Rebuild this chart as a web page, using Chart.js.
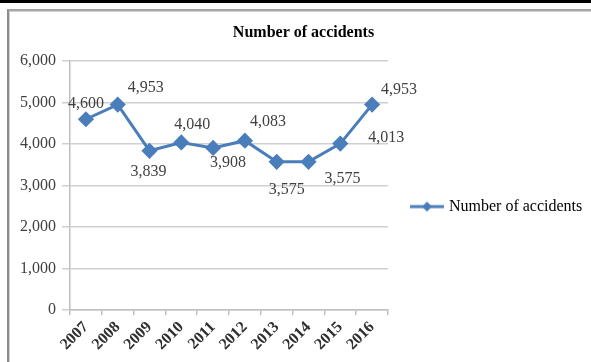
<!DOCTYPE html>
<html>
<head>
<meta charset="utf-8">
<title>Number of accidents</title>
<script src="https://cdn.jsdelivr.net/npm/chart.js@4.4.1/dist/chart.umd.min.js"></script>
<style>
    html, body { margin: 0; padding: 0; background: #fff; }
    .wrap { position: relative; width: 591px; height: 362px; overflow: hidden; }
    .rule { position: absolute; left: 0; top: 0; width: 591px; height: 3px; background: #000; }
    .frame { position: absolute; left: 7px; top: 9px; width: 700px; height: 400px;
             border-left: 2px solid #8c8c8c; border-top: 2px solid #a6a6a6;
             box-shadow: inset 1px 1px 0 #d0d0d0; }
    #accidentsChart { position: absolute; left: 0; top: 0; }
</style>
</head>
<body>
<div class="wrap">
    <div class="rule"></div>
    <div class="frame"></div>
    <canvas id="accidentsChart" width="591" height="362"></canvas>
</div>
<script>
/* Road accidents per year, 2007-2016 */
const years = ['2007', '2008', '2009', '2010', '2011', '2012', '2013', '2014', '2015', '2016'];
const accidents = [4600, 4953, 3839, 4040, 3908, 4083, 3575, 3575, 4013, 4953];
const yTicks = [0, 1000, 2000, 3000, 4000, 5000, 6000];

// hand-placed value labels, offset from each point [dx, dy]
const labelOffsets = [[0, -15], [28, -17], [-1, 21], [11, -18], [15, 15], [23, -19], [10, 28], [34, 17], [46, -6], [27, -15]];

const SERIF = '"Liberation Serif", "Times New Roman", serif';
const LINE_BLUE = '#4a7ebb';
const fmt = v => v.toLocaleString('en-US');

// legend swatch: short line with a diamond in the middle
function legendSwatch() {
    const c = document.createElement('canvas');
    c.width = 34; c.height = 12;
    const g = c.getContext('2d');
    g.strokeStyle = LINE_BLUE; g.lineWidth = 3;
    g.beginPath(); g.moveTo(0, 6); g.lineTo(34, 6); g.stroke();
    g.fillStyle = LINE_BLUE;
    g.beginPath(); g.moveTo(17, 1); g.lineTo(22, 6); g.lineTo(17, 11); g.lineTo(12, 6); g.closePath(); g.fill();
    return c;
}

const valueLabels = {
    id: 'valueLabels',
    afterDatasetsDraw(chart) {
        const ctx = chart.ctx;
        const meta = chart.getDatasetMeta(0);
        ctx.save();
        ctx.font = '16px ' + SERIF;
        ctx.fillStyle = '#404040';
        ctx.textAlign = 'center';
        ctx.textBaseline = 'middle';
        meta.data.forEach((pt, i) => {
            const [dx, dy] = labelOffsets[i];
            ctx.fillText(fmt(accidents[i]), pt.x + dx, pt.y + dy);
        });
        ctx.restore();
    }
};

const legendWidth = {
    id: 'legendWidth',
    beforeInit(chart) {
        const fit = chart.legend.fit;
        chart.legend.fit = function () {
            fit.call(this);
            this.width = 203;
        };
    }
};

new Chart(document.getElementById('accidentsChart'), {
    type: 'line',
    data: {
        labels: years,
        datasets: [{
            label: 'Number of accidents',
            data: accidents,
            borderColor: LINE_BLUE,
            backgroundColor: LINE_BLUE,
            borderWidth: 3,
            pointStyle: 'rectRot',
            pointRadius: 6,
            pointHoverRadius: 6,
            tension: 0
        }]
    },
    options: {
        responsive: false,
        animation: false,
        devicePixelRatio: 1,
        layout: { padding: { left: 16, right: 0, top: 0, bottom: 0 } },
        font: { family: SERIF, size: 16 },
        plugins: {
            title: {
                display: true,
                text: 'Number of accidents',
                color: '#000',
                font: { family: SERIF, size: 16, weight: 'bold' },
                padding: { top: 23, bottom: 19 }
            },
            legend: {
                position: 'right',
                align: 'center',
                fullSize: false,
                title: { display: true, text: ' ', font: { size: 10 }, padding: { top: 30, bottom: 0 } },
                labels: {
                    usePointStyle: true,
                    pointStyle: legendSwatch(),
                    pointStyleWidth: 28,
                    padding: 25,
                    color: '#000',
                    font: { family: SERIF, size: 16 }
                }
            },
            tooltip: { enabled: false }
        },
        scales: {
            x: {
                offset: true,
                afterFit: s => { s.height = 52; },
                grid: { drawOnChartArea: false, offset: true, tickLength: 5, color: '#bfbfbf', lineWidth: 1.5 },
                border: { color: '#bfbfbf', width: 1.5 },
                ticks: { autoSkip: false, maxRotation: 45, minRotation: 45, padding: 3, color: '#303030', font: { family: SERIF, size: 16, weight: 'bold' } }
            },
            y: {
                min: yTicks[0],
                max: yTicks[yTicks.length - 1],
                afterFit: s => { s.width = 54; },
                afterBuildTicks: s => { s.ticks = yTicks.map(v => ({ value: v })); },
                grid: { color: '#d0d0d0', lineWidth: 1.5, tickLength: 8 },
                border: { color: '#bfbfbf', width: 1.5 },
                ticks: { padding: 6, color: '#404040', font: { family: SERIF, size: 16 }, callback: v => fmt(v) }
            }
        }
    },
    plugins: [valueLabels, legendWidth]
});
</script>
</body>
</html>
